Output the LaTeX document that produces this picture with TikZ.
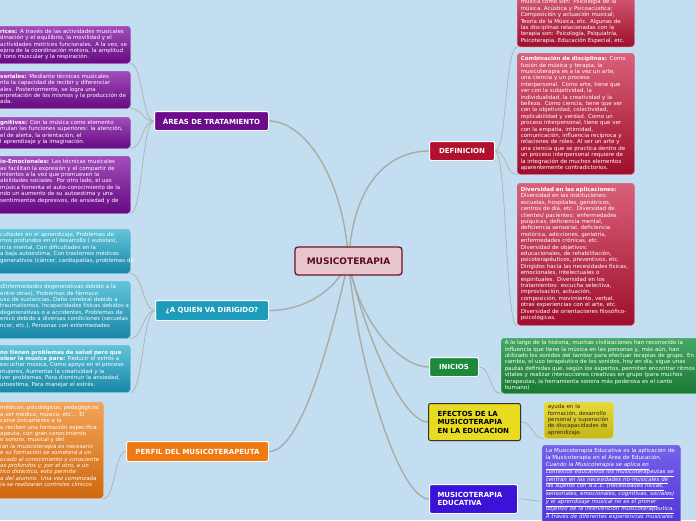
\documentclass[tikz,border=0pt]{standalone}
\usepackage{fontspec}
\setmainfont{DejaVu Sans}
\usetikzlibrary{shadows}
\pgfdeclarelayer{back}
\pgfdeclarelayer{conn}
\pgfsetlayers{back,conn,main}
\definecolor{bgblue}{HTML}{C3DEF0}
\definecolor{conncol}{HTML}{ABABA6}
\definecolor{leafconncol}{HTML}{B4B4B2}
\definecolor{purpleN}{HTML}{6C0C8C}
\definecolor{tealN}{HTML}{1C9CBA}
\definecolor{orangeN}{HTML}{F07A12}
\definecolor{redN}{HTML}{B0122E}
\definecolor{greenN}{HTML}{1B8A3C}
\definecolor{yellowN}{HTML}{E8DC22}
\definecolor{blueN}{HTML}{3A12D8}
\definecolor{centerfill}{HTML}{E8C6CE}
\definecolor{centerdraw}{HTML}{6E1428}
\definecolor{centertext}{HTML}{5C0A22}
\definecolor{purpleT}{HTML}{A24CBA}
\definecolor{purpleB}{HTML}{660A82}
\definecolor{tealT}{HTML}{62C4DA}
\definecolor{tealB}{HTML}{1886A6}
\definecolor{orangeT}{HTML}{F2A458}
\definecolor{orangeB}{HTML}{D06810}
\definecolor{redT}{HTML}{DA6079}
\definecolor{redB}{HTML}{9E0E2C}
\definecolor{greenT}{HTML}{46A866}
\definecolor{greenB}{HTML}{1A7832}
\definecolor{yellowT}{HTML}{E6DA3C}
\definecolor{yellowB}{HTML}{C6B618}
\definecolor{blueT}{HTML}{7462EA}
\definecolor{blueB}{HTML}{4A2CD6}
\definecolor{darktext}{HTML}{2A2A10}
\newcommand\uli[1]{\underline{\textit{#1}}}
\newcommand\leaftext[1]{\begin{tabular}{@{}l@{}}#1\end{tabular}}
\begin{document}
\begin{tikzpicture}[x=1pt,y=-1pt,
  leaf/.style={anchor=north west, rounded corners=3pt, inner xsep=3pt, inner ysep=0pt,
    text width=#1, align=left, text=white, font=\fontsize{5.5}{6.4}\selectfont, line width=0.5pt},
  pleaf/.style={leaf=127pt, top color=purpleT, bottom color=purpleB, draw=purpleT},
  tleaf/.style={leaf=127pt, top color=tealT, bottom color=tealB, draw=tealT},
  oleaf/.style={leaf=100pt, top color=orangeT, bottom color=orangeB, draw=orangeT},
  rleaf/.style={leaf=110pt, inner xsep=3.5pt, top color=redT, bottom color=redB, draw=redT},
  gleaf/.style={leaf=200pt, inner xsep=3.5pt, top color=greenT, bottom color=greenB, draw=greenT},
  yleaf/.style={leaf=62pt, inner xsep=3.5pt, top color=yellowT, bottom color=yellowB, draw=yellowT, text=darktext},
  bleaf/.style={leaf=131pt, inner xsep=3.5pt, inner ysep=3pt, top color=blueT, bottom color=blueB, draw=blueT},
  branch/.style={anchor=north west, draw=white, line width=1pt, rounded corners=2pt, text=white,
    font=\fontsize{7}{8.5}\selectfont\bfseries, inner sep=0pt,
    drop shadow={opacity=0.3, shadow xshift=0.7pt, shadow yshift=-0.9pt}},
  centernode/.style={fill=centerfill, draw=centerdraw, line width=1.3pt, rounded corners=3pt,
    text=centertext, font=\fontsize{9}{10}\selectfont\bfseries, minimum width=107pt, minimum height=28pt, inner sep=0pt},
  mainconn/.style={draw=conncol, line width=1.4pt},
  leafconn/.style={draw=leafconncol, line width=0.8pt}
]
\useasboundingbox (0,0) rectangle (696,520);
\begin{pgfonlayer}{back}
\fill[bgblue] (0,0) rectangle (696,520);
\end{pgfonlayer}

% central node
\node[centernode] (center) at (348.5,261) {MUSICOTERAPIA};

% branch nodes
\node[branch, fill=purpleN, minimum width=114pt, minimum height=19pt] (areas) at (154,111) {ÁREAS DE TRATAMIENTO};
\node[branch, fill=tealN, minimum width=113pt, minimum height=20pt] (quien) at (155,300) {¿A QUIEN VA DIRIGIDO?};
\node[branch, fill=orangeN, minimum width=142pt, minimum height=20pt] (perfil) at (126,441) {PERFIL DEL MUSICOTERAPEUTA};
\node[branch, fill=redN, minimum width=65pt, minimum height=19pt] (defin) at (429,141) {DEFINICION};
\node[branch, fill=greenN, minimum width=49pt, minimum height=19pt] (inicios) at (429,357) {INICIOS};
\node[branch, fill=yellowN, draw=black!80, text=black, text width=74pt, inner xsep=9pt, minimum height=37pt, align=left] (efectos) at (428,403) {EFECTOS DE LA\\MUSICOTERAPIA\\EN LA EDUCACION};
\node[branch, fill=blueN, text width=72pt, inner xsep=8pt, minimum height=29pt, align=left] (educ) at (429,484) {MUSICOTERAPIA\\EDUCATIVA};

% purple leaves
\node[pleaf, minimum height=37pt] (p1) at (-3,26) {\leaftext{%
\textbf{rices:} A través de las actividades musicales\\
dinación y el equilibrio, la movilidad y el\\
actividades motrices funcionales. A la vez, se\\
ejora de la coordinación motora, la amplitud\\
l tono muscular y la respiración.}};
\node[pleaf, minimum height=37pt] (p2) at (-3,71) {\leaftext{%
\textbf{soriales:} Mediante técnicas musicales\\
nta la capacidad de recibir y diferenciar\\
ales. Posteriormente, se logra una\\
erpretación de los mismos y la producción de\\
ada.}};
\node[pleaf, minimum height=31pt] (p3) at (-3,117) {\leaftext{%
\textbf{gnitivas:} Con la música como elemento\\
mulan las funciones superiores: la atención,\\
el de alerta, la orientación, el\\
l aprendizaje y la imaginación.}};
\node[pleaf, minimum height=57pt] (p4) at (-3,156) {\leaftext{%
\textbf{io-Emocionales:} Las técnicas musicales\\
as facilitan la expresión y el compartir de\\
imientos a la vez que promueven la\\
abilidades sociales. Por otro lado, el uso\\
música fomenta el auto-conocimiento de la\\
ndo un aumento de su autoestima y una\\
sentimientos depresivos, de ansiedad y de\\
~}};

% teal leaves
\node[tleaf, minimum height=44pt] (t1) at (-3,229) {\leaftext{%
cultades en el aprendizaje, Problemas de\\
rnos profundos en el desarrollo ( autistas),\\
ncia mental, Con dificultades en la\\
a baja autoestima, Con trastornos médicos\\
generativos (cáncer, cardiopatías, problemas de\\
~}};
\node[tleaf, minimum height=57pt] (t2) at (-3,281) {\leaftext{%
\textbf{:}Enfermedades degenerativas debido a la\\
entre otras), Problemas de fármaco\\
uso de sustancias, Daño cerebral debido a\\
traumatismos, Incapacidades físicas debidos a\\
degenerativas o a accidentes, Problemas de\\
enico debido a diversas condiciones (secuelas\\
ncer, etc.), Personas con enfermedades\\
~}};
\node[tleaf, minimum height=47pt] (t3) at (-3,345) {\leaftext{%
\textbf{no tienen problemas de salud pero que}\\
\textbf{olear la música para:} Reducir el estrés a\\
escuchar música, Como apoyo en el proceso\\
mujeres, Aumentar la creatividad y la\\
lver problemas, Para disminuir la ansiedad,\\
utoestima, Para manejar el estrés.}};

% orange leaf
\node[oleaf, minimum height=96pt] (o1) at (-3,402) {\leaftext{%
médicos, psicológicos, pedagógicos\\
a ser médico, músico, etc... El\\
carse únicamente a la\\
o reciben una formación específica.\\
apeuta, con gran conocimiento\\
o sonoro, musical y del\\
\textit{ian la musicoterapia es necesario}\\
\textit{e su formación se someterá a un}\\
\textit{ocado al conocimiento y consciente}\\
\textit{as profundos y, por el otro, a un}\\
\textit{tico didáctico, esto permite}\\
\textit{a del alumno. Una vez comenzada}\\
\textit{ia se realizarán controles clínicos}\\
~}};

% red leaves
\node[rleaf, anchor=south west, inner ysep=2.5pt] (d1) at (517,47) {\leaftext{%
~\\
música como son: Psicología de la\\
música, Acústica y Psicoacústica;\\
Composición y actuación musical;\\
Teoría de la Música, etc. Algunas de\\
las disciplinas relacionadas con la\\
terapia son: Psicología, Psiquiatría,\\
Psicoterapia, Educación Especial, etc.}};
\node[rleaf, minimum height=121pt] (d2) at (517,53) {\leaftext{%
\textbf{Combinación de disciplinas:} Como\\
fusión de música y terapia, la\\
musicoterapia es a la vez un arte,\\
una ciencia y un proceso\\
interpersonal. Como arte, tiene que\\
ver con la subjetividad, la\\
individualidad, la creatividad y la\\
belleza. Como ciencia, tiene que ver\\
con la objetividad, colectividad,\\
replicabilidad y verdad. Como un\\
proceso interpersonal, tiene que ver\\
con la empatía, intimidad,\\
comunicación, influencia recíproca y\\
relaciones de roles. Al ser un arte y\\
una ciencia que se practica dentro de\\
un proceso interpersonal requiere de\\
la integración de muchos elementos\\
aparentemente contradictorios.}};
\node[rleaf, minimum height=142pt] (d3) at (517,183) {\leaftext{%
\textbf{Diversidad en las aplicaciones:}\\
Diversidad en las instituciones:\\
escuelas, hospitales, geriátricos,\\
centros de día, etc. Diversidad de\\
clientes/ pacientes: enfermedades\\
psíquicas, deficiencia mental,\\
deficiencia sensorial, deficiencia\\
motórica, adicciones, geriatría,\\
enfermedades crónicas, etc.\\
Diversidad de objetivos:\\
educacionales, de rehabilitación,\\
psicoterapéuticos, preventivos, etc.\\
Dirigidos hacia las necesidades físicas,\\
emocionales, intelectuales o\\
espirituales. Diversidad en los\\
tratamientos: escucha selectiva,\\
improvisación, actuación,\\
composición, movimiento, verbal,\\
otras experiencias con el arte, etc.\\
Diversidad de orientaciones filosófico-\\
psicológicas.}};

% green leaf
\node[gleaf, minimum height=55pt] (g1) at (501,338) {\leaftext{%
A lo largo de la historia, muchas civilizaciones han reconocido la\\
influencia que tiene la música en las personas y, más aún, han\\
utilizado los sonidos del tambor para efectuar terapias de grupo. En\\
cambio, el uso terapéutico de los sonidos, hoy en día, sigue unas\\
pautas definidas que, según los expertos, permiten encontrar ritmos\\
vitales y realizar interacciones creativas en grupo (para muchos\\
terapeutas, la herramienta sonora más poderosa es el canto\\
humano)}};

% yellow leaf
\node[yleaf, minimum height=36pt] (y1) at (544,402) {\leaftext{%
ayuda en la\\
formación, desarrollo\\
personal y superación\\
de discapacidades de\\
aprendizaje.}};

% blue leaf
\node[bleaf] (b1) at (542,445) {\leaftext{%
La Musicoterapia Educativa es la aplicación de\\
la Musicoterapia en el Área de Educación.\\
\uli{Cuando la Musicoterapia se aplica en}\\
\uli{contextos educativos los musicoterapeutas se}\\
\uli{centran en las necesidades no-musicales de}\\
\uli{las sujetos con N.E.E. (necesidades físicas,}\\
\uli{sensoriales, emocionales, cognitivas, sociales)}\\
\uli{y el aprendizaje musical no es el primer}\\
\uli{objetivo de la intervención musicoterapéutica.}\\
\uli{A través de diferentes experiencias musicales}\\
\uli{terapéuticas (EMT) se pretende incidir en la}\\
~}};
\coordinate (b1in) at (542,501);

% connectors
\begin{pgfonlayer}{conn}
\draw[mainconn] (areas.east) .. controls +(35,0) and +(-5,-85) .. (center.center);
\draw[mainconn] (defin.west) .. controls +(-35,0) and +(5,-85) .. (center.center);
\draw[mainconn] (quien.east) .. controls +(40,0) and +(-10,25) .. (center.center);
\draw[mainconn] (perfil.east) .. controls +(32,0) and +(-18,80) .. (center.center);
\draw[mainconn] (inicios.west) .. controls +(-30,0) and +(10,60) .. (center.center);
\draw[mainconn] (efectos.west) .. controls +(-28,0) and +(12,60) .. (center.center);
\draw[mainconn] (educ.west) .. controls +(-29,0) and +(10,110) .. (center.center);

\draw[leafconn] (areas.west) .. controls +(-12,0) and +(12,0) .. (p1.south east);
\draw[leafconn] (areas.west) .. controls +(-12,0) and +(12,0) .. (p2.south east);
\draw[leafconn] (areas.west) .. controls +(-12,0) and +(12,0) .. (p3.south east);
\draw[leafconn] (areas.west) .. controls +(-12,0) and +(12,0) .. (p4.south east);
\draw[leafconn] (quien.west) .. controls +(-12,0) and +(12,0) .. (t1.south east);
\draw[leafconn] (quien.west) .. controls +(-12,0) and +(12,0) .. (t2.south east);
\draw[leafconn] (quien.west) .. controls +(-12,0) and +(12,0) .. (t3.south east);
\draw[leafconn] (perfil.west) .. controls +(-12,0) and +(12,0) .. (o1.south east);
\draw[leafconn] (defin.east) .. controls +(12,0) and +(-12,0) .. (d1.south west);
\draw[leafconn] (defin.east) .. controls +(12,0) and +(-12,0) .. (d2.south west);
\draw[leafconn] (defin.east) .. controls +(12,0) and +(-12,0) .. (d3.south west);
\draw[leafconn] (inicios.east) .. controls +(12,0) and +(-12,0) .. (g1.south west);
\draw[leafconn] (efectos.east) .. controls +(12,0) and +(-12,0) .. (y1.south west);
\draw[leafconn] (educ.east) .. controls +(12,0) and +(-12,0) .. (b1in);
\end{pgfonlayer}
\end{tikzpicture}
\end{document}
